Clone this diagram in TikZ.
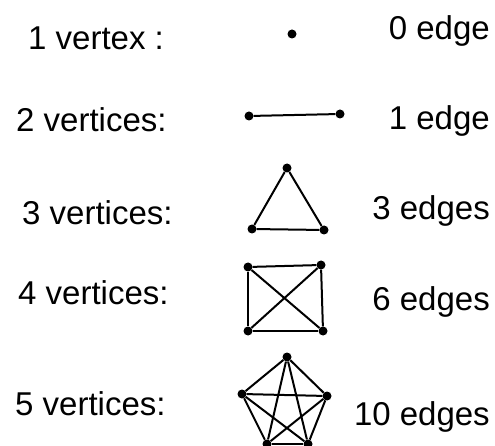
\documentclass[tikz,border=0pt]{standalone}
\usepackage{fontspec}
\setmainfont{Liberation Sans}
\usepackage{tikz}
\usetikzlibrary{positioning}

\begin{document}
\begin{tikzpicture}[
  x=1pt, y=-1pt,
  vtx/.style={circle, fill=black, inner sep=0pt, minimum size=9pt},
  edge/.style={line width=2pt, draw=black},
  count/.style={font=\fontsize{33}{38}\selectfont, inner sep=0pt, anchor=base west},
  total/.style={font=\fontsize{33}{38}\selectfont, inner sep=0pt, anchor=base east}
]
\useasboundingbox (0,0) rectangle (495,446);
% labels, left column
\node[count] (n1) at (28,50) {1 vertex :};
\node[count] (n2) at (16,132) {2 vertices:};
\node[count] (n3) at (22,225) {3 vertices:};
\node[count] (n4) at (18,305) {4 vertices:};
\node[count] (n5) at (15,415) {5 vertices:};
% labels, right column
\node[total] (e1) at (490,40) {0 edge};
\node[total] (e2) at (490,130) {1 edge};
\node[total] (e3) at (490,220) {3 edges};
\node[total] (e4) at (490,310) {6 edges};
\node[total] (e5) at (490,425) {10 edges};
% one vertex
\node[vtx] (a1) at (292,34) {};
% two vertices
\node[vtx] (b1) at (249,116) {};
\node[vtx] (b2) at (340,114) {};
\draw[edge] (b1) -- (b2);
% three vertices
\node[vtx] (c1) at (287,168) {};
\node[vtx] (c2) at (252,229) {};
\node[vtx] (c3) at (324,230) {};
\draw[edge] (c1) -- (c2);
\draw[edge] (c2) -- (c3);
\draw[edge] (c3) -- (c1);
% four vertices
\node[vtx] (d1) at (248,267) {};
\node[vtx] (d2) at (321,265) {};
\node[vtx] (d3) at (248,331) {};
\node[vtx] (d4) at (323,331) {};
\draw[edge] (d1) -- (d2);
\draw[edge] (d1) -- (d3);
\draw[edge] (d2) -- (d4);
\draw[edge] (d3) -- (d4);
\draw[edge] (d1) -- (d4);
\draw[edge] (d2) -- (d3);
% five vertices
\node[vtx] (f1) at (287,357) {};
\node[vtx] (f2) at (242,394) {};
\node[vtx] (f3) at (327,396) {};
\node[vtx] (f4) at (267,444) {};
\node[vtx] (f5) at (308,444) {};
\draw[edge] (f1) -- (f2);
\draw[edge] (f1) -- (f3);
\draw[edge] (f1) -- (f4);
\draw[edge] (f1) -- (f5);
\draw[edge] (f2) -- (f3);
\draw[edge] (f2) -- (f4);
\draw[edge] (f2) -- (f5);
\draw[edge] (f3) -- (f4);
\draw[edge] (f3) -- (f5);
\draw[edge] (f4) -- (f5);
\end{tikzpicture}
\end{document}
